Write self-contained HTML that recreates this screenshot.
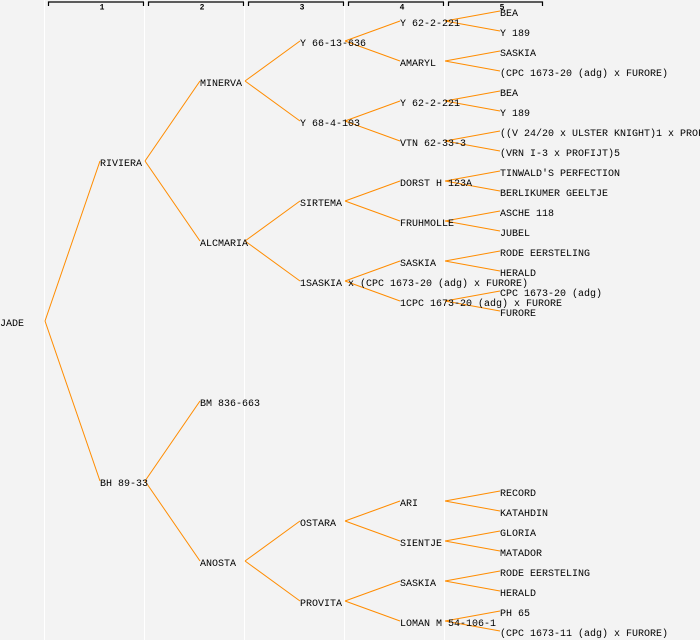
<!DOCTYPE html>
<html><head><meta charset="utf-8"><style>
html,body{margin:0;padding:0;background:#f3f3f3;}
svg{display:block;}
text{font-family:"Liberation Mono",monospace;font-size:10px;fill:#000;}
.n{font-size:8px;font-weight:bold;}
line.c{stroke:#ff8c00;stroke-width:1;}
</style></head><body>
<svg width="700" height="640" xmlns="http://www.w3.org/2000/svg">
<rect width="700" height="640" fill="#f3f3f3"/>
<g stroke="#ffffff" stroke-width="1">
<line x1="44.5" y1="0" x2="44.5" y2="640"/><line x1="144.5" y1="0" x2="144.5" y2="640"/><line x1="244.5" y1="0" x2="244.5" y2="640"/><line x1="344.5" y1="0" x2="344.5" y2="640"/><line x1="444.5" y1="0" x2="444.5" y2="640"/>
</g>
<g stroke="#000" stroke-width="1.2" fill="none">
<polyline points="48.5,6 48.5,2 143.5,2 143.5,6"/>
<polyline points="148.5,6 148.5,2 243.5,2 243.5,6"/>
<polyline points="248.5,6 248.5,2 343.5,2 343.5,6"/>
<polyline points="348.5,6 348.5,2 443.5,2 443.5,6"/>
<polyline points="448.5,6 448.5,2 542.5,2 542.5,6"/>
</g>
<g class="n" text-anchor="middle">
<text class="n" x="102" y="9.5">1</text><text class="n" x="202" y="9.5">2</text><text class="n" x="302" y="9.5">3</text><text class="n" x="402" y="9.5">4</text><text class="n" x="502" y="9.5">5</text>
</g>
<g>
<line class="c" x1="45" y1="321" x2="100" y2="161"/><line class="c" x1="45" y1="321" x2="100" y2="481"/>
<line class="c" x1="145" y1="161" x2="200" y2="81"/><line class="c" x1="145" y1="161" x2="200" y2="241"/>
<line class="c" x1="145" y1="481" x2="200" y2="401"/><line class="c" x1="145" y1="481" x2="200" y2="561"/>
<line class="c" x1="245" y1="81" x2="300" y2="41"/><line class="c" x1="245" y1="81" x2="300" y2="121"/>
<line class="c" x1="245" y1="241" x2="300" y2="201"/><line class="c" x1="245" y1="241" x2="300" y2="281"/>
<line class="c" x1="245" y1="561" x2="300" y2="521"/><line class="c" x1="245" y1="561" x2="300" y2="601"/>
<line class="c" x1="345" y1="41" x2="400" y2="21"/><line class="c" x1="345" y1="41" x2="400" y2="61"/>
<line class="c" x1="345" y1="121" x2="400" y2="101"/><line class="c" x1="345" y1="121" x2="400" y2="141"/>
<line class="c" x1="345" y1="201" x2="400" y2="181"/><line class="c" x1="345" y1="201" x2="400" y2="221"/>
<line class="c" x1="345" y1="281" x2="400" y2="261"/><line class="c" x1="345" y1="281" x2="400" y2="301"/>
<line class="c" x1="345" y1="521" x2="400" y2="501"/><line class="c" x1="345" y1="521" x2="400" y2="541"/>
<line class="c" x1="345" y1="601" x2="400" y2="581"/><line class="c" x1="345" y1="601" x2="400" y2="621"/>
<line class="c" x1="445" y1="21" x2="500" y2="11"/><line class="c" x1="445" y1="21" x2="500" y2="31"/>
<line class="c" x1="445" y1="61" x2="500" y2="51"/><line class="c" x1="445" y1="61" x2="500" y2="71"/>
<line class="c" x1="445" y1="101" x2="500" y2="91"/><line class="c" x1="445" y1="101" x2="500" y2="111"/>
<line class="c" x1="445" y1="141" x2="500" y2="131"/><line class="c" x1="445" y1="141" x2="500" y2="151"/>
<line class="c" x1="445" y1="181" x2="500" y2="171"/><line class="c" x1="445" y1="181" x2="500" y2="191"/>
<line class="c" x1="445" y1="221" x2="500" y2="211"/><line class="c" x1="445" y1="221" x2="500" y2="231"/>
<line class="c" x1="445" y1="261" x2="500" y2="251"/><line class="c" x1="445" y1="261" x2="500" y2="271"/>
<line class="c" x1="445" y1="301" x2="500" y2="291"/><line class="c" x1="445" y1="301" x2="500" y2="311"/>
<line class="c" x1="445" y1="501" x2="500" y2="491"/><line class="c" x1="445" y1="501" x2="500" y2="511"/>
<line class="c" x1="445" y1="541" x2="500" y2="531"/><line class="c" x1="445" y1="541" x2="500" y2="551"/>
<line class="c" x1="445" y1="581" x2="500" y2="571"/><line class="c" x1="445" y1="581" x2="500" y2="591"/>
<line class="c" x1="445" y1="621" x2="500" y2="611"/><line class="c" x1="445" y1="621" x2="500" y2="631"/>
</g>
<g>
<text x="0" y="326">JADE</text>
<text x="100" y="166">RIVIERA</text><text x="100" y="486">BH 89-33</text>
<text x="200" y="86">MINERVA</text><text x="200" y="246">ALCMARIA</text><text x="200" y="406">BM 836-663</text><text x="200" y="566">ANOSTA</text>
<text x="300" y="46">Y 66-13-636</text><text x="300" y="126">Y 68-4-103</text><text x="300" y="206">SIRTEMA</text><text x="300" y="286">1SASKIA x (CPC 1673-20 (adg) x FURORE)</text><text x="300" y="526">OSTARA</text><text x="300" y="606">PROVITA</text>
<text x="400" y="26">Y 62-2-221</text><text x="400" y="66">AMARYL</text><text x="400" y="106">Y 62-2-221</text><text x="400" y="146">VTN 62-33-3</text><text x="400" y="186">DORST H 123A</text><text x="400" y="226">FRUHMOLLE</text><text x="400" y="266">SASKIA</text><text x="400" y="306">1CPC 1673-20 (adg) x FURORE</text>
<text x="400" y="506">ARI</text><text x="400" y="546">SIENTJE</text><text x="400" y="586">SASKIA</text><text x="400" y="626">LOMAN M 54-106-1</text>
<text x="500" y="16">BEA</text><text x="500" y="36">Y 189</text><text x="500" y="56">SASKIA</text><text x="500" y="76">(CPC 1673-20 (adg) x FURORE)</text>
<text x="500" y="96">BEA</text><text x="500" y="116">Y 189</text><text x="500" y="136">((V 24/20 x ULSTER KNIGHT)1 x PROFIJT)</text><text x="500" y="156">(VRN I-3 x PROFIJT)5</text>
<text x="500" y="176">TINWALD'S PERFECTION</text><text x="500" y="196">BERLIKUMER GEELTJE</text><text x="500" y="216">ASCHE 118</text><text x="500" y="236">JUBEL</text>
<text x="500" y="256">RODE EERSTELING</text><text x="500" y="276">HERALD</text><text x="500" y="296">CPC 1673-20 (adg)</text><text x="500" y="316">FURORE</text>
<text x="500" y="496">RECORD</text><text x="500" y="516">KATAHDIN</text><text x="500" y="536">GLORIA</text><text x="500" y="556">MATADOR</text>
<text x="500" y="576">RODE EERSTELING</text><text x="500" y="596">HERALD</text><text x="500" y="616">PH 65</text><text x="500" y="636">(CPC 1673-11 (adg) x FURORE)</text>
</g>
</svg>
</body></html>
